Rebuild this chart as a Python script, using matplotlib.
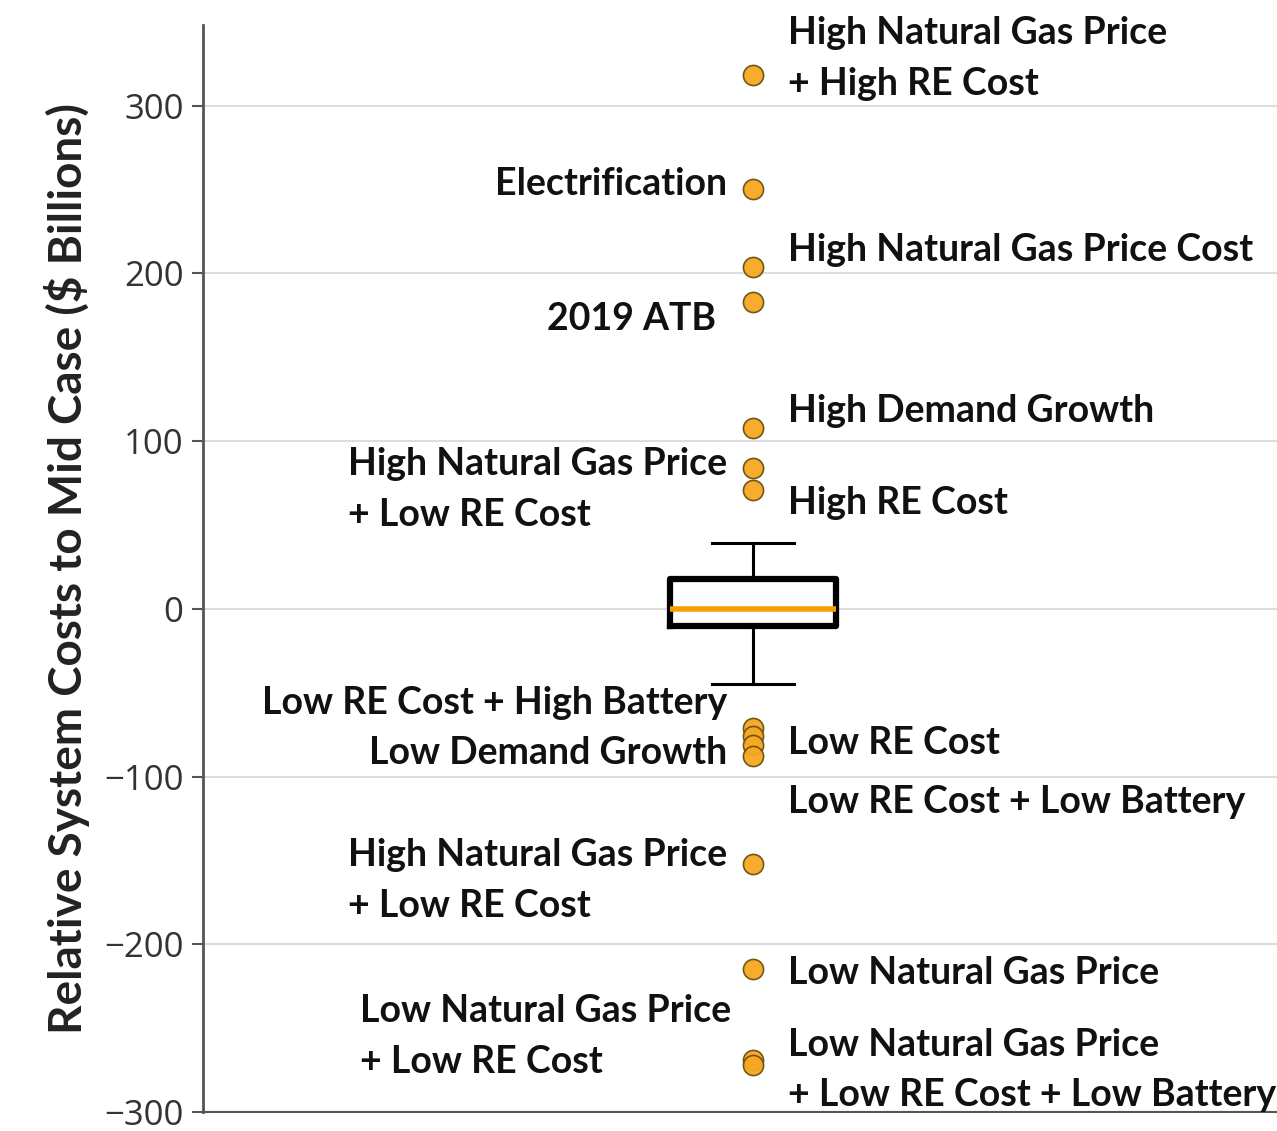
import matplotlib.pyplot as plt

# box statistics ($ billions relative to Mid Case)
whisker_low = -45
q1 = -10
median = 0
q3 = 18
whisker_high = 39

# outlier scenarios
outliers = [318, 250, 204, 183, 108, 84, 71, -71, -76, -81, -88, -152, -215, -269, -272]

# label text, label y, side
labels = [
    ("High Natural Gas Price\n+ High RE Cost", 328, "right"),
    ("Electrification", 253, "left"),
    ("High Natural Gas Price Cost", 214, "right"),
    ("2019 ATB", 173, "left2"),
    ("High Demand Growth", 118, "right"),
    ("High Natural Gas Price\n+ Low RE Cost", 71, "left"),
    ("High RE Cost", 63, "right"),
    ("Low RE Cost + High Battery", -56, "left"),
    ("Low Demand Growth", -86, "left"),
    ("Low RE Cost", -80, "right"),
    ("Low RE Cost + Low Battery", -115, "right"),
    ("High Natural Gas Price\n+ Low RE Cost", -162, "left"),
    ("Low Natural Gas Price", -217, "right"),
    ("Low Natural Gas Price\n+ Low RE Cost", -255, "left3"),
    ("Low Natural Gas Price\n+ Low RE Cost + Low Battery", -275, "right"),
]

yticks = [-300, -200, -100, 0, 100, 200, 300]

fig = plt.figure(figsize=(12.77, 11.31), dpi=100)
ax = fig.add_axes([203 / 1277, 1 - 1112 / 1131, 1 - 203 / 1277, (1112 - 25) / 1131])

pos = 0.512
stats = [dict(med=median, q1=q1, q3=q3, whislo=whisker_low, whishi=whisker_high, fliers=outliers)]
ax.bxp(stats, positions=[pos], widths=0.155, capwidths=0.077,
       boxprops=dict(color="black", linewidth=4.5),
       whiskerprops=dict(color="black", linewidth=2.2),
       capprops=dict(color="black", linewidth=2.2),
       medianprops=dict(color="#f5a000", linewidth=4),
       flierprops=dict(marker="o", markerfacecolor="#f7a823", markeredgecolor="#6b5010",
                       markeredgewidth=1.2, markersize=14.5, alpha=0.95))

for text, y, side in labels:
    if side == "right":
        x, ha = 0.545, "left"
    elif side == "left2":
        x, ha = 0.478, "right"
    elif side == "left3":
        x, ha = 0.492, "right"
    else:
        x, ha = 0.488, "right"
    ax.text(x, y, text, ha=ha, va="center", multialignment="left",
            fontsize=27, fontweight="bold", family="Lato", color="#111111",
            linespacing=1.6)

ax.set_xlim(0, 1)
ax.set_ylim(-300, 348)
ax.set_xticks([])
ax.set_yticks(yticks)
ax.set_yticklabels([str(t).replace("-", "\u2212") for t in yticks], fontsize=25,
                   family="Open Sans", color="#333333")
ax.tick_params(axis="y", length=8, width=1.5, color="#555555", pad=6)
ax.grid(axis="y", color="#dddddd", linewidth=1.5)
ax.set_axisbelow(True)

for s in ["top", "right"]:
    ax.spines[s].set_visible(False)
ax.spines["left"].set_color("#555555")
ax.spines["left"].set_linewidth(2)
ax.spines["bottom"].set_color("#555555")
ax.spines["bottom"].set_linewidth(1.5)

ax.set_ylabel("Relative System Costs to Mid Case ($ Billions)", fontsize=33,
              fontweight="bold", family="Lato", color="#222222", labelpad=10)

fig.savefig("out.png", dpi=100)
